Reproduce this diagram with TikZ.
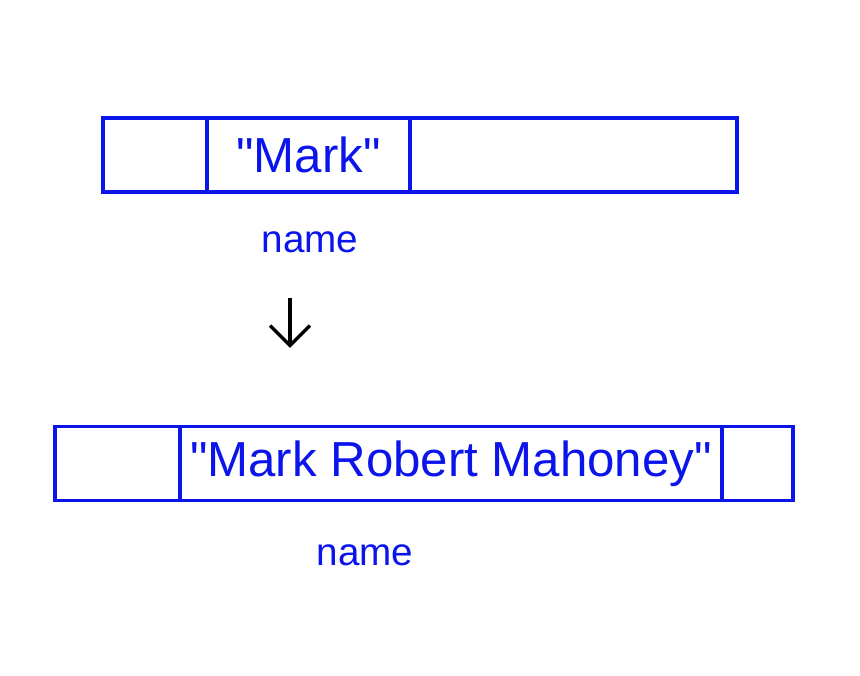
\documentclass[tikz,border=0pt]{standalone}
\usepackage{fontspec}
\setmainfont{Liberation Sans}[Ligatures=TeXOff]
\usepackage{xcolor}
\usetikzlibrary{arrows.meta, positioning}
\definecolor{penblue}{RGB}{10,20,235}

\begin{document}
\begin{tikzpicture}[
    bar/.style={draw=penblue, line width=1pt, minimum height=0.74cm, inner sep=0pt},
    cell/.style={draw=penblue, line width=1pt, minimum height=0.74cm, inner sep=0pt, text=penblue, font=\fontsize{14}{16}\selectfont},
    varname/.style={text=penblue, font=\fontsize{11}{13}\selectfont},
    arrow/.style={-{Straight Barb[length=2mm]}, line width=1pt}
]
    \useasboundingbox (0,0) rectangle (8.6,6.75);

    % Before
    \node[bar, minimum width=6.34cm] (oldbar) at (4.2,5.2) {};
    \node[cell, minimum width=2.03cm] (oldcell) at (3.085,5.2) {"Mark"};
    \node[varname] (oldname) at (3.1,4.33) {name};

    % Arrow
    \coordinate (arrowtop) at (2.9,3.77);
    \coordinate (arrowbot) at (2.9,3.27);
    \draw[arrow] (arrowtop) -- (arrowbot);

    % After
    \node[bar, minimum width=7.38cm] (newbar) at (4.24,2.115) {};
    \node[cell, minimum width=5.42cm] (newcell) at (4.51,2.115) {"Mark Robert Mahoney"};
    \node[varname] (newname) at (3.65,1.2) {name};
\end{tikzpicture}
\end{document}
